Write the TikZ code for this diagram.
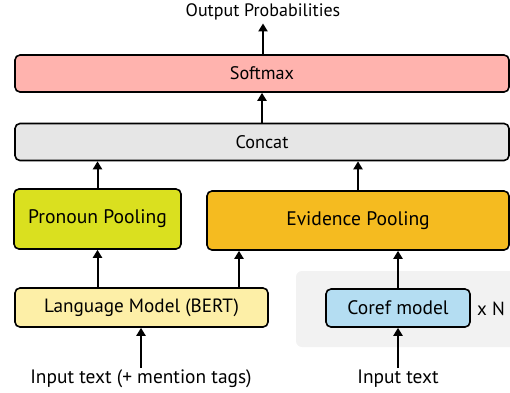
\documentclass[tikz,border=0pt]{standalone}
\usepackage{fontspec}
\setmainfont{PT Sans}
\usetikzlibrary{arrows.meta,calc}
\definecolor{cSoft}{HTML}{FFB3AE}
\definecolor{cConc}{HTML}{E6E6E6}
\definecolor{cPron}{HTML}{DAE01F}
\definecolor{cEvid}{HTML}{F5BB20}
\definecolor{cLM}{HTML}{FDEFA7}
\definecolor{cCoref}{HTML}{B4DDF2}
\definecolor{cBg}{HTML}{F2F2F2}
\tikzset{
  box/.style={draw=black, line width=1.6pt, rounded corners=5pt, inner sep=0pt, align=center},
  arr/.style={line width=2pt, -{Triangle[width=9pt,length=8pt]}},
  lbl/.style={inner sep=0pt, font=\fontsize{18}{21}\selectfont}
}
\begin{document}
\begin{tikzpicture}[x=1pt,y=-1pt]
\useasboundingbox (0,0) rectangle (510,392);
\fill[cBg, rounded corners=6pt] (296,271) rectangle (516,347);
\node[box, fill=cSoft, minimum width=494pt, minimum height=37pt, font=\fontsize{18.2}{21}\selectfont] (soft) at (262,73.5) {Softmax};
\node[box, fill=cConc, minimum width=494pt, minimum height=37pt, font=\fontsize{18.2}{21}\selectfont] (conc) at (262,142) {Concat};
\node[box, fill=cPron, minimum width=167pt, minimum height=60pt, font=\fontsize{19.6}{22}\selectfont] (pron) at (97.5,219) {Pronoun Pooling};
\node[box, fill=cEvid, minimum width=302pt, minimum height=59pt, font=\fontsize{19.6}{22}\selectfont] (evid) at (358,220.5) {Evidence Pooling};
\node[box, fill=cLM, minimum width=253pt, minimum height=39pt, font=\fontsize{19.2}{22}\selectfont] (lm) at (141.5,307.5) {Language Model (BERT)};
\node[box, fill=cCoref, minimum width=144pt, minimum height=38pt, font=\fontsize{19.5}{22}\selectfont] (coref) at (398,308) {Coref model};
\node[lbl, font=\fontsize{19}{22}\selectfont] (xn) at (491,309) {x N};
\node[lbl] (out) at (263,12) {Output Probabilities};
\node[lbl, font=\fontsize{19.4}{22}\selectfont] (in1) at (141,379) {Input text (+ mention tags)};
\node[lbl, font=\fontsize{19.4}{22}\selectfont] (in2) at (398,379) {Input text};
\draw[arr] (soft.north -| out.south) -- ($(out.south)+(0,3)$);
\draw[arr] (conc.north -| soft.south) -- (soft.south);
\draw[arr] (pron.north) -- (pron.north |- conc.south);
\draw[arr] (evid.north) -- (evid.north |- conc.south);
\draw[arr] (lm.north -| pron.south) -- (pron.south);
\draw[arr] ($(lm.north -| 239,0)$) -- ($(evid.south -| 239,0)$);
\draw[arr] (coref.north) -- (coref.north |- evid.south);
\draw[arr] ($(in1.north)+(0,-2)$) -- (lm.south -| in1.north);
\draw[arr] ($(in2.north)+(0,-2)$) -- (coref.south);
\end{tikzpicture}
\end{document}
